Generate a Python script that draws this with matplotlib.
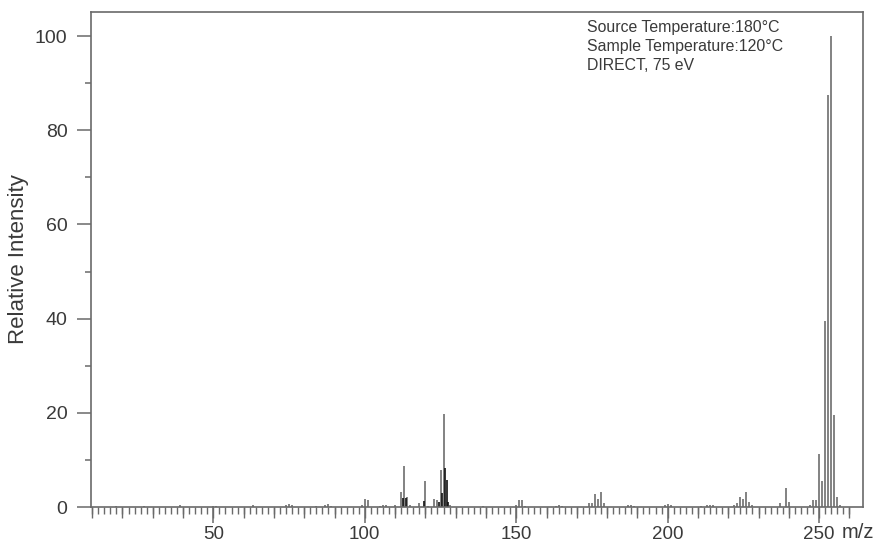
import matplotlib
matplotlib.use("Agg")
import matplotlib.pyplot as plt
from matplotlib.ticker import FixedLocator
import numpy as np

plt.rcParams['font.family'] = ['Liberation Sans', 'DejaVu Sans']

# ---- data ----
mz_peaks = [18, 27, 39, 50, 51, 63, 74, 75, 76, 84, 87, 88, 89,
            99, 100, 101, 105, 106, 107, 110, 112, 113, 114, 115,
            118, 120, 121, 123, 124, 125, 126, 128, 139,
            150, 151, 152, 153, 163, 164, 165,
            174, 175, 176, 177, 178, 179, 187, 188, 189,
            199, 200, 201, 211, 213, 214, 215,
            222, 223, 224, 225, 226, 227, 228,
            237, 239, 240, 247, 248, 249, 250, 251, 252, 253, 254, 255, 256, 257]
int_peaks = [0.3, 0.3, 0.4, 0.3, 0.3, 0.5, 0.4, 0.7, 0.5, 0.3, 0.5, 0.6, 0.3,
             0.5, 1.8, 1.5, 0.3, 0.5, 0.4, 0.5, 3.1, 8.6, 2.1, 0.4,
             0.9, 5.6, 0.3, 1.7, 1.5, 7.8, 19.7, 0.5, 0.3,
             0.5, 1.4, 1.4, 0.3, 0.3, 0.4, 0.3,
             0.8, 0.8, 2.7, 1.6, 3.2, 0.8, 0.4, 0.5, 0.3,
             0.5, 0.7, 0.4, 0.3, 0.4, 0.5, 0.4,
             0.5, 0.8, 2.2, 1.6, 3.2, 1.0, 0.5,
             0.8, 4.0, 1.0, 0.4, 1.5, 1.5, 11.3, 5.6, 39.5, 87.5, 100.0, 19.6, 2.1, 0.5]

# dense (half-integer) lines that appear black in the reference
mz_dense = [112.5, 113.5, 119.5, 124.5, 125.5, 126.5, 127, 127.5]
int_dense = [2.0, 2.0, 1.3, 1.0, 2.9, 8.2, 5.7, 1.0]

y_ticks = [0, 20, 40, 60, 80, 100]
x_ticks = [50, 100, 150, 200, 250]
x_tick_labels = ['50', '100', '150', '200', '250']

annotation = "Source Temperature:180°C\nSample Temperature:120°C\nDIRECT, 75 eV"

W, H = 884, 547
fig = plt.figure(figsize=(W / 100, H / 100), dpi=100)
ax = fig.add_axes([91 / W, 1 - 507 / H, (863 - 91) / W, (507 - 12) / H])

frame = '#6a6a6a'
txt = '#3a3a3a'

ax.vlines(mz_peaks, 0, int_peaks, colors='#7d7d7d', linewidth=1.35)
ax.vlines(mz_dense, 0, int_dense, colors='#111111', linewidth=1.2)

ax.set_xlim(9.6, 264.5)
ax.set_ylim(0, 105.1)

for s in ax.spines.values():
    s.set_color(frame)
    s.set_linewidth(1.2)

ax.set_yticks(y_ticks)
ax.yaxis.set_minor_locator(FixedLocator([10, 30, 50, 70, 90]))
ax.set_xticks(x_ticks)
ax.set_xticklabels(x_tick_labels)
ax.xaxis.set_minor_locator(FixedLocator(np.arange(10, 261, 2)))

ax.tick_params(axis='y', which='major', length=10, width=1.1, color=frame,
               labelsize=14, labelcolor=txt, pad=7)
ax.tick_params(axis='y', which='minor', length=4.5, width=1.1, color=frame)
ax.tick_params(axis='x', which='major', length=11.5, width=1.1, color=frame,
               labelsize=13.5, labelcolor=txt, pad=2)
ax.tick_params(axis='x', which='minor', length=5.0, width=1.0, color=frame)

# medium ticks every 10
sec = ax.secondary_xaxis('bottom')
sec.set_xticks(np.arange(10, 261, 10))
sec.set_xticklabels([])
sec.tick_params(axis='x', which='major', length=8, width=1.0, color=frame)
sec.tick_params(axis='x', which='minor', length=0)
sec.spines['bottom'].set_visible(False)

ax.set_ylabel('Relative Intensity', fontsize=16, color=txt)
ax.yaxis.set_label_coords((29 - 91) / (863 - 91), 0.5)

fig.text(842 / W, 1 - 523 / H, 'm/z', fontsize=14.5, color=txt, ha='left', va='top')

ax.text((587 - 91) / (863 - 91), (507 - 20) / (507 - 12), annotation,
        transform=ax.transAxes, fontsize=11.4, color=txt, ha='left', va='top',
        linespacing=1.32)

fig.savefig('out.png', dpi=100)
